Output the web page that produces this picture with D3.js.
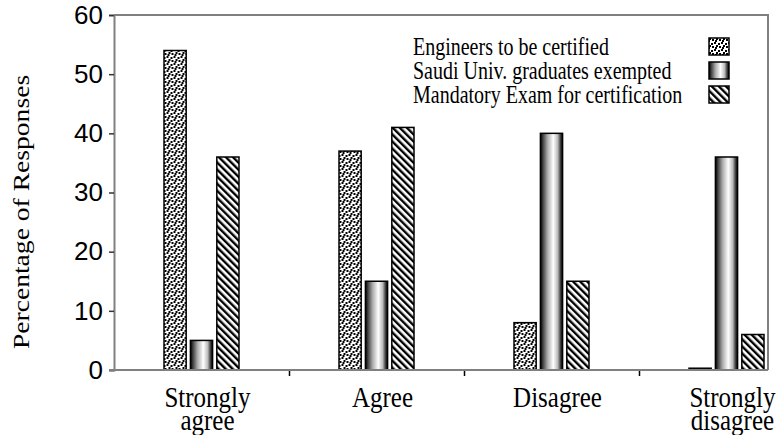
<!DOCTYPE html>
<html>
<head>
<meta charset="utf-8">
<script src="https://cdn.jsdelivr.net/npm/d3@7"></script>
<style>
  body { margin: 0; background: #fff; }
  svg { display: block; }
</style>
</head>
<body>
<svg class="chart"></svg>
<script>
var width = 783, height = 435;

// data
var categories = [["Strongly", "agree"], ["Agree"], ["Disagree"], ["Strongly", "disagree"]];
var series = ["Engineers to be certified", "Saudi Univ. graduates exempted", "Mandatory Exam for certification"];
var engineers = [54, 37, 8, 0.3];
var saudi = [5, 15, 40, 36];
var mandatory = [36, 41, 15, 6];
var yTicks = [0, 10, 20, 30, 40, 50, 60];

var values = [engineers, saudi, mandatory];
var fills = ["url(#dots)", "url(#cyl)", "url(#hatch)"];

var chart = d3.select(".chart")
    .attr("width", width)
    .attr("height", height);

var defs = chart.append("defs");

// dotted pattern
var dots = defs.append("pattern")
    .attr("id", "dots")
    .attr("patternUnits", "userSpaceOnUse")
    .attr("width", 7).attr("height", 7);
dots.append("rect").attr("width", 7).attr("height", 7).attr("fill", "#fff");
[[0, 0], [4, 1], [2, 3], [5, 4], [1, 5]].forEach(function(p) {
    dots.append("rect")
        .attr("x", p[0]).attr("y", p[1])
        .attr("width", 2).attr("height", 2)
        .attr("fill", "#000");
});

// cylinder-ish gradient
var cyl = defs.append("linearGradient")
    .attr("id", "cyl")
    .attr("x1", "0").attr("x2", "1").attr("y1", "0").attr("y2", "0");
[[0, "#000"], [0.12, "#444"], [0.32, "#aaa"], [0.58, "#fff"], [0.78, "#bbb"], [0.9, "#444"], [1, "#000"]]
    .forEach(function(s) {
        cyl.append("stop").attr("offset", s[0]).attr("stop-color", s[1]);
    });

// diagonal hatch
var hatch = defs.append("pattern")
    .attr("id", "hatch")
    .attr("patternUnits", "userSpaceOnUse")
    .attr("width", 5).attr("height", 5)
    .attr("patternTransform", "rotate(-45)");
hatch.append("rect").attr("width", 5).attr("height", 5).attr("fill", "#fff");
hatch.append("rect").attr("width", 2.4).attr("height", 5).attr("fill", "#000");

var plotLeft = 114, plotTop = 15, plotBottom = 370, plotRight = 768;

var x = d3.scaleBand()
    .domain(d3.range(categories.length))
    .range([plotLeft, plotLeft + 175 * categories.length]);

var xInner = d3.scaleBand()
    .domain(d3.range(series.length))
    .range([-37.5, 37.5])
    .paddingInner(0.16);

var y = d3.scaleLinear()
    .domain([0, 60])
    .range([plotBottom, plotTop]);

// frame lines (top and right)
chart.append("path")
    .attr("d", "M" + plotLeft + "," + plotTop + "H" + plotRight + "V" + plotBottom)
    .attr("fill", "none")
    .attr("stroke", "#808080")
    .attr("stroke-width", 2);

// bars
var groups = chart.selectAll("g.group")
    .data(categories)
    .enter().append("g")
    .attr("class", "group")
    .attr("transform", function(d, i) {
        return "translate(" + (x(i) + x.bandwidth() / 2) + ",0)";
    });

groups.selectAll("rect")
    .data(function(d, i) {
        return values.map(function(s, j) { return {s: j, v: s[i]}; });
    })
    .enter().append("rect")
    .attr("x", function(d) { return xInner(d.s); })
    .attr("width", xInner.bandwidth())
    .attr("y", function(d) { return y(d.v); })
    .attr("height", function(d) { return plotBottom - y(d.v); })
    .attr("fill", function(d) { return fills[d.s]; })
    .attr("stroke", "#000")
    .attr("stroke-width", 1.5);

// y axis
var yAxis = d3.axisLeft(y)
    .tickValues(yTicks)
    .tickSize(5)
    .tickPadding(6);

var yg = chart.append("g")
    .attr("transform", "translate(" + plotLeft + ",0)")
    .call(yAxis);
yg.select(".domain").attr("stroke", "#808080").attr("stroke-width", 2);
yg.selectAll(".tick line").attr("stroke", "#333").attr("stroke-width", 1.5);
yg.selectAll(".tick text")
    .attr("font-family", "'Liberation Sans', Arial, sans-serif")
    .attr("font-size", 26)
    .attr("fill", "#000");

// x axis ticks at category boundaries
var xAxis = d3.axisBottom(d3.scaleLinear().domain([0, 4]).range([plotLeft, plotLeft + 700]))
    .tickValues([1, 2, 3])
    .tickSize(6)
    .tickFormat("");
var xg = chart.append("g")
    .attr("transform", "translate(0," + plotBottom + ")")
    .call(xAxis);
xg.select(".domain").remove();
xg.selectAll(".tick line").attr("stroke", "#000").attr("stroke-width", 1.5);
chart.append("line")
    .attr("x1", plotLeft - 5).attr("x2", plotRight)
    .attr("y1", plotBottom).attr("y2", plotBottom)
    .attr("stroke", "#808080")
    .attr("stroke-width", 2);

// category labels
var labels = chart.selectAll("g.xlabel")
    .data(categories)
    .enter().append("g")
    .attr("class", "xlabel")
    .attr("transform", function(d, i) {
        return "translate(" + (x(i) + x.bandwidth() / 2 + 6) + ",407) scale(1,1.15)";
    });
labels.selectAll("text")
    .data(function(d) { return d; })
    .enter().append("text")
    .attr("y", function(d, i) { return i * 20; })
    .attr("text-anchor", "middle")
    .attr("font-family", "'Liberation Serif', 'Times New Roman', serif")
    .attr("font-size", 25)
    .text(function(d) { return d; });

// y title
chart.append("text")
    .attr("transform", "translate(29,212) rotate(-90) scale(1.2,1)")
    .attr("text-anchor", "middle")
    .attr("font-family", "'Liberation Serif', 'Times New Roman', serif")
    .attr("font-size", 23)
    .text("Percentage of Responses");

// legend
var legend = chart.selectAll("g.legend")
    .data(series)
    .enter().append("g")
    .attr("class", "legend")
    .attr("transform", function(d, i) { return "translate(0," + (i * 24) + ")"; });

legend.append("text")
    .attr("transform", "translate(413,55) scale(1,1.25)")
    .attr("font-family", "'Liberation Serif', 'Times New Roman', serif")
    .attr("font-size", 20)
    .text(function(d) { return d; });

legend.append("rect")
    .attr("x", 709).attr("y", 38)
    .attr("width", 20).attr("height", 17)
    .attr("fill", function(d, i) { return fills[i]; })
    .attr("stroke", "#000")
    .attr("stroke-width", 1.5);
</script>
</body>
</html>
